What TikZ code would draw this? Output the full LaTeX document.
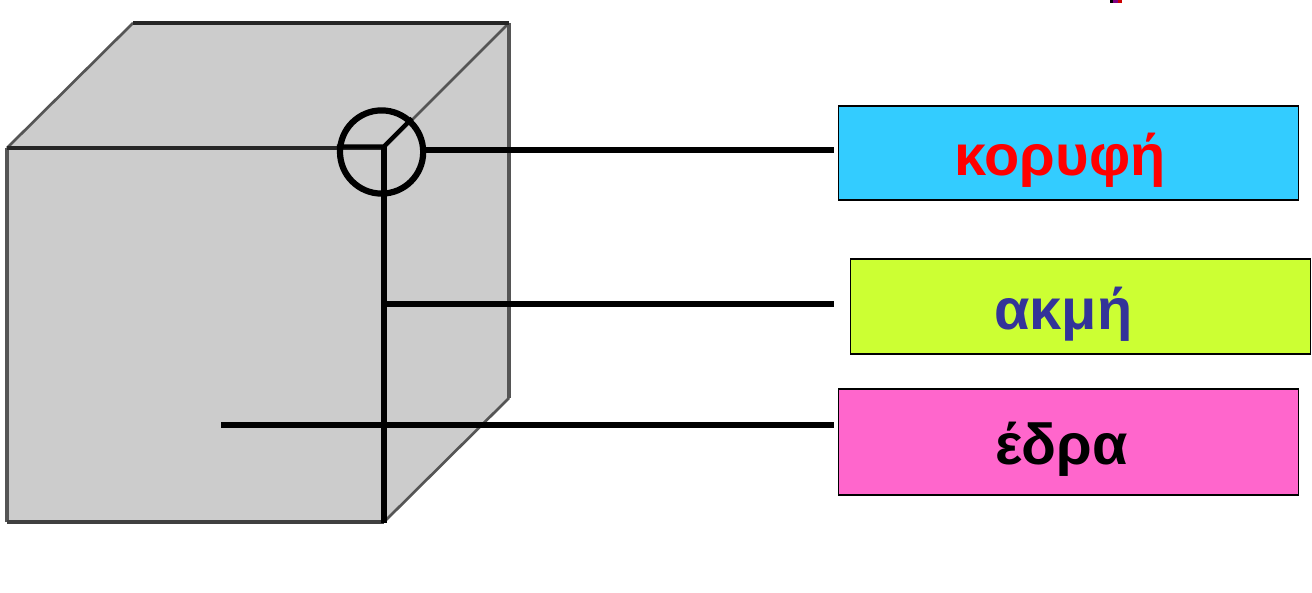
\documentclass[tikz,border=0pt]{standalone}
\usepackage{fontspec}
\setmainfont{Liberation Sans}
\usetikzlibrary{calc}
\definecolor{cubegray}{RGB}{204,204,204}
\definecolor{edgegray}{RGB}{85,85,85}
\definecolor{skyfill}{RGB}{51,204,255}
\definecolor{limefill}{RGB}{204,255,51}
\definecolor{pinkfill}{RGB}{255,102,204}
\definecolor{navytext}{RGB}{51,51,153}
\tikzset{
  labelbox/.style={draw=black, line width=1.2pt, minimum width=11.5cm, inner sep=0pt},
  labeltext/.style={anchor=base, inner sep=0pt, font=\fontsize{41}{48}\selectfont\bfseries},
  pointer/.style={line width=4.4pt, black},
  cubeedge/.style={line width=2.6pt, edgegray},
  cubeslant/.style={line width=1.9pt, edgegray}
}

\begin{document}
\begin{tikzpicture}
  \useasboundingbox (0,0) rectangle (32.8,14.8);

  % cube
  \fill[cubegray] (0.175,11.1) -- (3.325,14.225) -- (12.725,14.225) -- (12.725,4.85) -- (9.6,1.75) -- (0.175,1.75) -- cycle;
  \draw[cubeedge] (0.175,1.75) -- (0.175,11.1);
  \draw[cubeedge] (12.725,14.225) -- (12.725,4.85);
  \draw[cubeslant] (0.175,11.1) -- (3.325,14.225);
  \draw[cubeslant] (12.725,4.85) -- (9.6,1.75);
  \draw[cubeslant] (9.6,11.1) -- (12.725,14.225);
  \draw[line width=3pt, black!85] (3.325,14.225) -- (12.725,14.225);
  \draw[line width=2.2pt, black!85] (0.175,11.1) -- (9.6,11.1);
  \draw[line width=3pt, black!75] (0.175,1.75) -- (9.6,1.75);

  % small speck at the top edge
  \fill[black] (27.75,14.72) rectangle (27.83,14.8);
  \fill[violet] (27.83,14.72) rectangle (27.95,14.8);
  \fill[red!80!black] (27.95,14.72) rectangle (28.05,14.8);

  % labels
  \node[labelbox, fill=skyfill, minimum height=2.35cm] (koryfi) at (26.71,10.975) {};
  \node[labelbox, fill=limefill, minimum height=2.375cm] (akmi) at (27.01,7.14) {};
  \node[labelbox, fill=pinkfill, minimum height=2.65cm] (edra) at (26.71,3.75) {};

  \node[labeltext, text=red] (koryfitext) at (26.5,10.42) {κορυφή};
  \node[labeltext, text=navytext] (akmitext) at (26.58,6.57) {ακμή};
  \node[labeltext, text=black] (edratext) at (26.54,3.2) {έδρα};

  % pointers
  \node[draw, pointer, circle, minimum size=2.08cm, inner sep=0pt] (vertexmark) at (9.54,11) {};
  \coordinate (edgetop) at (9.6,11.14);
  \coordinate (edgebottom) at (9.6,1.72);
  \coordinate (edgemark) at (9.6,7.2);
  \coordinate (facemark) at (5.525,4.175);
  \coordinate (cornerback) at (10.3,11.84);

  \draw[pointer] (edgetop) -- (edgebottom);
  \draw[line width=3pt, black] (vertexmark.west |- edgetop) -- (edgetop) -- (cornerback);
  \draw[pointer, shorten >=0.1cm] ($(vertexmark.east)+(0,0.05)$) -- ($(vertexmark.east -| koryfi.west)+(0,0.05)$);
  \draw[pointer, shorten >=0.4cm] (edgemark) -- (edgemark -| akmi.west);
  \draw[pointer, shorten >=0.1cm] (facemark) -- (facemark -| edra.west);
\end{tikzpicture}
\end{document}
